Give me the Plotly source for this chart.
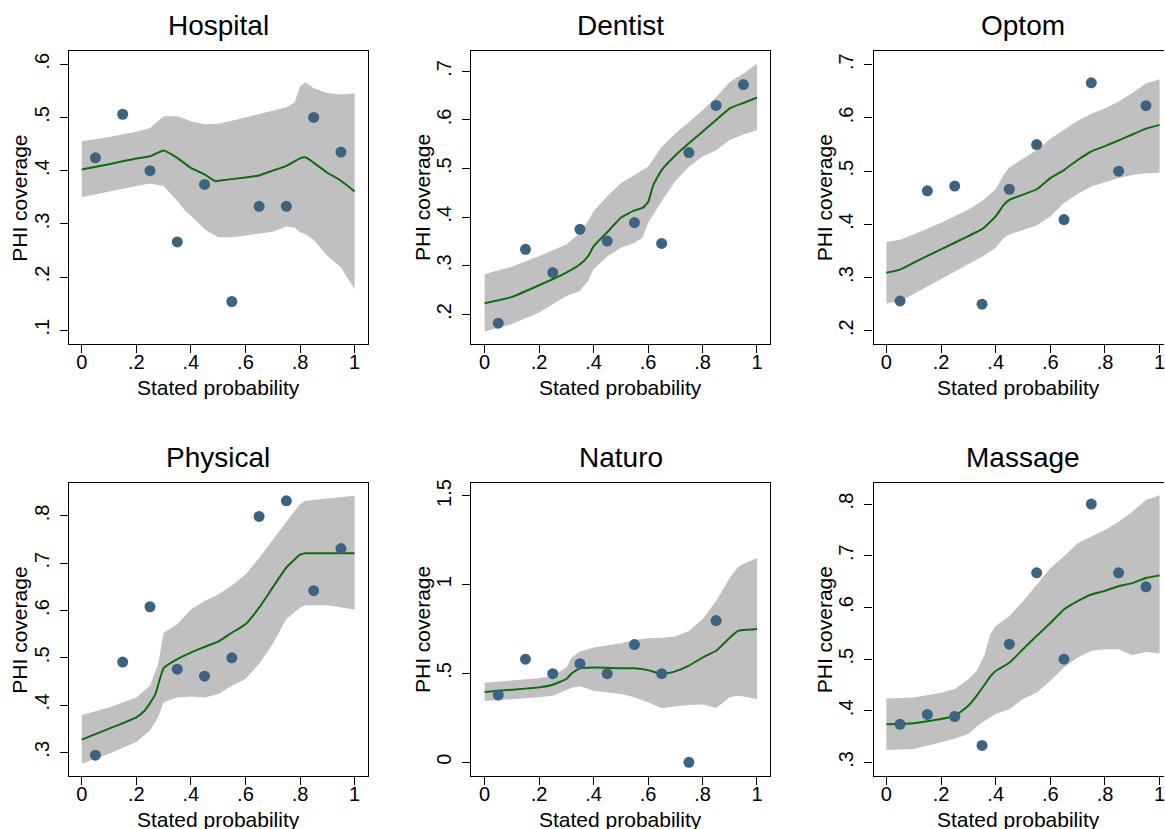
import plotly.graph_objects as go

W, H = 1165, 829

# ---------------- data ----------------
panel_names = ["Hospital", "Dentist", "Optom", "Physical", "Naturo", "Massage"]

pt_x = [0.05, 0.15, 0.25, 0.35, 0.45, 0.55, 0.65, 0.75, 0.85, 0.95]

hospital_pts = [0.424, 0.506, 0.400, 0.266, 0.374, 0.154, 0.333, 0.333, 0.500, 0.435]
dentist_pts = [0.182, 0.334, 0.286, 0.375, 0.351, 0.389, 0.346, 0.533, 0.630, 0.673]
optom_pts = [0.256, 0.463, 0.472, 0.250, 0.466, 0.550, 0.409, 0.666, 0.500, 0.623]
physical_pts = [0.294, 0.491, 0.608, 0.476, 0.461, 0.500, 0.799, 0.832, 0.642, 0.731]
naturo_pts = [0.379, 0.581, 0.499, 0.555, 0.499, 0.663, 0.499, 0.000, 0.798]
massage_pts = [0.374, 0.393, 0.389, 0.333, 0.529, 0.667, 0.500, 0.800, 0.667, 0.640]

# smoothed fit + confidence band
hospital_fx = [0, 0.1, 0.2, 0.25, 0.3, 0.35, 0.4, 0.45, 0.49, 0.5, 0.6, 0.65, 0.7, 0.75, 0.8, 0.82, 0.85, 0.9, 0.95, 1.0]
hospital_fit = [0.402, 0.412, 0.423, 0.427, 0.438, 0.424, 0.405, 0.393, 0.380, 0.381, 0.387, 0.391, 0.400, 0.409, 0.423, 0.425, 0.415, 0.396, 0.381, 0.361]
hospital_bx = [0, 0.1, 0.2, 0.25, 0.3, 0.35, 0.38, 0.4, 0.45, 0.5, 0.55, 0.6, 0.7, 0.75, 0.78, 0.8, 0.82, 0.85, 0.9, 0.95, 1.0]
hospital_hi = [0.455, 0.463, 0.473, 0.480, 0.502, 0.502, 0.497, 0.493, 0.487, 0.488, 0.494, 0.500, 0.513, 0.519, 0.528, 0.558, 0.566, 0.555, 0.546, 0.543, 0.545]
hospital_lo = [0.350, 0.361, 0.371, 0.376, 0.371, 0.343, 0.324, 0.315, 0.290, 0.275, 0.275, 0.278, 0.285, 0.295, 0.293, 0.284, 0.281, 0.270, 0.240, 0.218, 0.177]

dentist_fx = [0, 0.1, 0.2, 0.3, 0.35, 0.38, 0.4, 0.45, 0.5, 0.55, 0.58, 0.6, 0.62, 0.65, 0.7, 0.75, 0.8, 0.85, 0.9, 0.95, 1.0]
dentist_fit = [0.223, 0.236, 0.260, 0.286, 0.303, 0.320, 0.340, 0.369, 0.399, 0.414, 0.419, 0.431, 0.467, 0.497, 0.527, 0.552, 0.576, 0.600, 0.624, 0.635, 0.646]
dentist_bx = [0, 0.1, 0.2, 0.3, 0.35, 0.38, 0.4, 0.45, 0.5, 0.55, 0.58, 0.6, 0.65, 0.7, 0.75, 0.8, 0.85, 0.9, 0.95, 1.0]
dentist_hi = [0.283, 0.298, 0.320, 0.344, 0.368, 0.392, 0.412, 0.443, 0.470, 0.487, 0.496, 0.504, 0.545, 0.572, 0.596, 0.620, 0.647, 0.678, 0.695, 0.716]
dentist_lo = [0.165, 0.180, 0.204, 0.238, 0.248, 0.269, 0.293, 0.319, 0.337, 0.347, 0.358, 0.388, 0.433, 0.474, 0.504, 0.525, 0.538, 0.559, 0.570, 0.579]

optom_fx = [0, 0.05, 0.1, 0.2, 0.3, 0.35, 0.4, 0.43, 0.45, 0.5, 0.55, 0.6, 0.65, 0.7, 0.75, 0.8, 0.85, 0.9, 0.95, 1.0]
optom_fit = [0.309, 0.315, 0.328, 0.353, 0.378, 0.391, 0.415, 0.437, 0.446, 0.456, 0.466, 0.487, 0.502, 0.521, 0.537, 0.547, 0.558, 0.569, 0.580, 0.587]
optom_bx = optom_fx
optom_hi = [0.367, 0.371, 0.381, 0.403, 0.428, 0.444, 0.466, 0.494, 0.507, 0.523, 0.540, 0.561, 0.578, 0.595, 0.608, 0.618, 0.631, 0.647, 0.665, 0.673]
optom_lo = [0.251, 0.256, 0.269, 0.297, 0.325, 0.339, 0.356, 0.375, 0.381, 0.390, 0.398, 0.415, 0.440, 0.457, 0.471, 0.479, 0.487, 0.493, 0.496, 0.497]

physical_fx = [0, 0.1, 0.2, 0.23, 0.25, 0.27, 0.3, 0.35, 0.4, 0.45, 0.5, 0.55, 0.6, 0.65, 0.7, 0.75, 0.8, 0.82, 0.9, 1.0]
physical_fit = [0.327, 0.350, 0.374, 0.388, 0.404, 0.423, 0.478, 0.497, 0.511, 0.523, 0.534, 0.553, 0.571, 0.606, 0.649, 0.691, 0.718, 0.721, 0.721, 0.721]
physical_bx = [0, 0.1, 0.2, 0.25, 0.28, 0.3, 0.35, 0.4, 0.45, 0.5, 0.55, 0.6, 0.65, 0.7, 0.75, 0.8, 0.82, 0.9, 1.0]
physical_hi = [0.379, 0.395, 0.416, 0.441, 0.487, 0.553, 0.571, 0.602, 0.620, 0.634, 0.653, 0.676, 0.711, 0.750, 0.788, 0.825, 0.832, 0.837, 0.843]
physical_lo = [0.276, 0.297, 0.322, 0.346, 0.374, 0.406, 0.416, 0.418, 0.416, 0.423, 0.441, 0.455, 0.487, 0.529, 0.582, 0.606, 0.611, 0.611, 0.602]

naturo_fx = [0, 0.1, 0.2, 0.25, 0.3, 0.32, 0.35, 0.4, 0.5, 0.55, 0.6, 0.65, 0.7, 0.75, 0.8, 0.85, 0.9, 0.93, 0.95, 1.0]
naturo_fit = [0.396, 0.409, 0.422, 0.437, 0.469, 0.501, 0.529, 0.534, 0.530, 0.530, 0.519, 0.497, 0.512, 0.544, 0.590, 0.628, 0.702, 0.740, 0.745, 0.751]
naturo_bx = naturo_fx
naturo_hi = [0.448, 0.459, 0.473, 0.487, 0.534, 0.590, 0.624, 0.646, 0.671, 0.689, 0.699, 0.702, 0.708, 0.740, 0.805, 0.908, 1.039, 1.098, 1.117, 1.151]
naturo_lo = [0.345, 0.355, 0.366, 0.375, 0.407, 0.420, 0.428, 0.403, 0.385, 0.366, 0.338, 0.304, 0.314, 0.323, 0.325, 0.306, 0.366, 0.375, 0.370, 0.357]

massage_fx = [0, 0.1, 0.15, 0.2, 0.25, 0.3, 0.33, 0.36, 0.38, 0.4, 0.45, 0.5, 0.55, 0.6, 0.65, 0.7, 0.75, 0.8, 0.85, 0.9, 0.95, 1.0]
massage_fit = [0.374, 0.376, 0.380, 0.384, 0.390, 0.410, 0.429, 0.451, 0.466, 0.477, 0.493, 0.519, 0.545, 0.570, 0.596, 0.612, 0.625, 0.632, 0.641, 0.647, 0.657, 0.662]
massage_bx = [0, 0.1, 0.2, 0.25, 0.3, 0.33, 0.36, 0.38, 0.4, 0.45, 0.5, 0.55, 0.6, 0.65, 0.7, 0.75, 0.8, 0.85, 0.9, 0.95, 1.0]
massage_hi = [0.424, 0.426, 0.435, 0.442, 0.461, 0.477, 0.509, 0.548, 0.564, 0.583, 0.612, 0.644, 0.676, 0.699, 0.724, 0.737, 0.750, 0.766, 0.785, 0.808, 0.817]
massage_lo = [0.324, 0.326, 0.339, 0.346, 0.355, 0.369, 0.381, 0.387, 0.394, 0.403, 0.423, 0.435, 0.458, 0.484, 0.503, 0.516, 0.519, 0.519, 0.508, 0.514, 0.511]

x_tickvals = [0, 0.2, 0.4, 0.6, 0.8, 1.0]
x_ticktext = ["0", ".2", ".4", ".6", ".8", "1"]

hospital_ytv = [0.1, 0.2, 0.3, 0.4, 0.5, 0.6]
hospital_ytt = [".1", ".2", ".3", ".4", ".5", ".6"]
dentist_ytv = [0.2, 0.3, 0.4, 0.5, 0.6, 0.7]
dentist_ytt = [".2", ".3", ".4", ".5", ".6", ".7"]
optom_ytv = [0.2, 0.3, 0.4, 0.5, 0.6, 0.7]
optom_ytt = [".2", ".3", ".4", ".5", ".6", ".7"]
physical_ytv = [0.3, 0.4, 0.5, 0.6, 0.7, 0.8]
physical_ytt = [".3", ".4", ".5", ".6", ".7", ".8"]
naturo_ytv = [0, 0.5, 1.0, 1.5]
naturo_ytt = ["0", ".5", "1", "1.5"]
massage_ytv = [0.3, 0.4, 0.5, 0.6, 0.7, 0.8]
massage_ytt = [".3", ".4", ".5", ".6", ".7", ".8"]

x_title = "Stated probability"
y_title = "PHI coverage"

# ---------------- layout geometry (pixels) ----------------
FONT = "Liberation Sans, Arial, sans-serif"
MARKER_C = "#3b6382"
BAND_C = "#c0c0c0"
LINE_C = "#0a6e0a"

cols_px = [(69.0, 368.0), (471.7, 771.0), (874.3, 1165.0)]
rows_px = [(47.7, 341.7), (481.7, 775.7)]
x_ranges = [[-0.047, 1.048], [-0.049, 1.049], [-0.047, 1.016]]
title_cx = [218.5, 621.3, 1024.0]

y_ranges = [[0.074, 0.624], [0.139, 0.741], [0.175, 0.725],
            [0.250, 0.869], [-0.077, 1.571], [0.274, 0.840]]

panels = [
    (pt_x, hospital_pts, hospital_fx, hospital_fit, hospital_bx, hospital_hi, hospital_lo, hospital_ytv, hospital_ytt),
    (pt_x, dentist_pts, dentist_fx, dentist_fit, dentist_bx, dentist_hi, dentist_lo, dentist_ytv, dentist_ytt),
    (pt_x, optom_pts, optom_fx, optom_fit, optom_bx, optom_hi, optom_lo, optom_ytv, optom_ytt),
    (pt_x, physical_pts, physical_fx, physical_fit, physical_bx, physical_hi, physical_lo, physical_ytv, physical_ytt),
    (pt_x[:9], naturo_pts, naturo_fx, naturo_fit, naturo_bx, naturo_hi, naturo_lo, naturo_ytv, naturo_ytt),
    (pt_x, massage_pts, massage_fx, massage_fit, massage_bx, massage_hi, massage_lo, massage_ytv, massage_ytt),
]

fig = go.Figure()
layout = dict(
    width=W, height=H,
    margin=dict(l=0, r=0, t=0, b=0),
    paper_bgcolor="white", plot_bgcolor="white",
    showlegend=False,
    font=dict(family=FONT, color="black"),
)
annotations = []

for i, (px, py, fx, fy, bx, bhi, blo, ytv, ytt) in enumerate(panels):
    r, c = divmod(i, 3)
    k = i + 1
    xa = "x" if k == 1 else f"x{k}"
    ya = "y" if k == 1 else f"y{k}"
    xl, xr = cols_px[c]
    yt, yb = rows_px[r]

    fig.add_trace(go.Scatter(x=bx, y=blo, mode="lines", line=dict(width=0, color=BAND_C),
                             hoverinfo="skip", xaxis=xa, yaxis=ya))
    fig.add_trace(go.Scatter(x=bx, y=bhi, mode="lines", line=dict(width=0, color=BAND_C),
                             fill="tonexty", fillcolor=BAND_C, hoverinfo="skip", xaxis=xa, yaxis=ya))
    fig.add_trace(go.Scatter(x=fx, y=fy, mode="lines", line=dict(width=2, color=LINE_C, shape="spline", smoothing=0.4),
                             xaxis=xa, yaxis=ya))
    fig.add_trace(go.Scatter(x=px, y=py, mode="markers", marker=dict(size=11, color=MARKER_C),
                             cliponaxis=False, xaxis=xa, yaxis=ya))

    xkey = "xaxis" if k == 1 else f"xaxis{k}"
    ykey = "yaxis" if k == 1 else f"yaxis{k}"
    layout[xkey] = dict(
        domain=[xl / W, xr / W], anchor=ya, range=x_ranges[c],
        showgrid=False, zeroline=False,
        showline=True, linecolor="black", linewidth=1.3, mirror=True,
        ticks="outside", ticklen=8, tickwidth=1.1, tickcolor="black",
        tickvals=x_tickvals, ticktext=x_ticktext, ticklabelstandoff=-8,
        ticklabeloverflow="allow",
        tickfont=dict(family=FONT, size=20, color="black"),
    )
    layout[ykey] = dict(
        domain=[1 - yb / H, 1 - yt / H], anchor=xa, range=y_ranges[i],
        showgrid=False, zeroline=False,
        showline=True, linecolor="black", linewidth=1.3, mirror=(c < 2),
        ticks="outside", ticklen=8, tickwidth=1.1, tickcolor="black",
        tickvals=ytv, ticktext=ytt, tickangle=-90, ticklabelstandoff=3,
        tickfont=dict(family=FONT, size=20, color="black"),
    )
    annotations.append(dict(text=panel_names[i], x=title_cx[c] / W, y=1 - (yt - 26) / H,
                            xref="paper", yref="paper", xanchor="center", yanchor="middle",
                            showarrow=False, font=dict(family=FONT, size=28, color="black")))
    annotations.append(dict(text=x_title, x=((xl + min(xr, xl + 299.5)) / 2) / W, y=1 - (yb + 44) / H,
                            xref="paper", yref="paper", xanchor="center", yanchor="middle",
                            showarrow=False, font=dict(family=FONT, size=21, color="black")))
    annotations.append(dict(text=y_title, x=(xl - 49) / W, y=1 - ((yt + yb) / 2) / H,
                            xref="paper", yref="paper", xanchor="center", yanchor="middle",
                            textangle=-90, showarrow=False, font=dict(family=FONT, size=21, color="black")))

layout["annotations"] = annotations
fig.update_layout(**layout)
fig.write_html("out.html", config={"displayModeBar": False},
               post_script="document.body.style.margin='0';document.body.style.overflow='hidden';")
